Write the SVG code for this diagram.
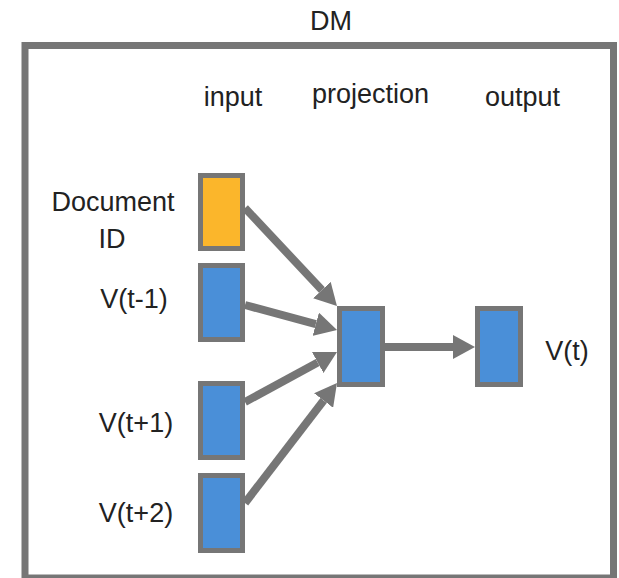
<svg xmlns="http://www.w3.org/2000/svg" width="619" height="578" viewBox="0 0 619 578">
<style>
.frame{fill:none;stroke:#767676;stroke-width:7}
.node{stroke:#767676;stroke-width:5}
.blue{fill:#4a8fd8}
.orange{fill:#fbb62b}
.lbl{font-family:"Liberation Sans",Arial,sans-serif;font-size:27px;fill:#222;text-anchor:middle}
.conn line{stroke:#767676;stroke-width:8;marker-end:url(#ah)}
</style>
<defs>
<marker id="ah" markerUnits="userSpaceOnUse" markerWidth="22" markerHeight="24" viewBox="0 0 22 24" refX="0" refY="12" orient="auto">
<path d="M0,0 L22,12 L0,24 z" fill="#767676"/>
</marker>
</defs>
<rect width="619" height="578" fill="#fff"/>
<g id="frame">
<rect class="frame" x="25" y="45.5" width="588.5" height="532.5"/>
<text class="lbl" x="331" y="30">DM</text>
</g>
<g id="headers">
<text class="lbl" x="233" y="106">input</text>
<text class="lbl" x="370.5" y="103">projection</text>
<text class="lbl" x="522.5" y="106">output</text>
</g>
<g id="docid">
<rect class="node orange" x="200.5" y="175.5" width="42" height="73"/>
<text class="lbl" x="113" y="211">Document</text>
<text class="lbl" x="112" y="248">ID</text>
</g>
<g id="vtm1">
<rect class="node blue" x="200.5" y="265.5" width="42" height="74"/>
<text class="lbl" x="134" y="308">V(t-1)</text>
</g>
<g id="vtp1">
<rect class="node blue" x="200.5" y="383.5" width="42" height="74"/>
<text class="lbl" x="136" y="432">V(t+1)</text>
</g>
<g id="vtp2">
<rect class="node blue" x="200.5" y="475.5" width="42" height="75"/>
<text class="lbl" x="136" y="522">V(t+2)</text>
</g>
<g id="projection">
<rect class="node blue" x="339.5" y="308.5" width="43" height="76"/>
</g>
<g id="output">
<rect class="node blue" x="477.5" y="308.5" width="43" height="76"/>
<text class="lbl" x="567" y="360">V(t)</text>
</g>
<g id="connectors" class="conn">
<line x1="245" y1="208" x2="321.9" y2="290"/>
<line x1="245" y1="305" x2="315.8" y2="324.2"/>
<line x1="245" y1="402" x2="317.7" y2="362.5"/>
<line x1="245" y1="503" x2="323.6" y2="400.5"/>
<line x1="385" y1="347" x2="453" y2="347"/>
</g>
</svg>
